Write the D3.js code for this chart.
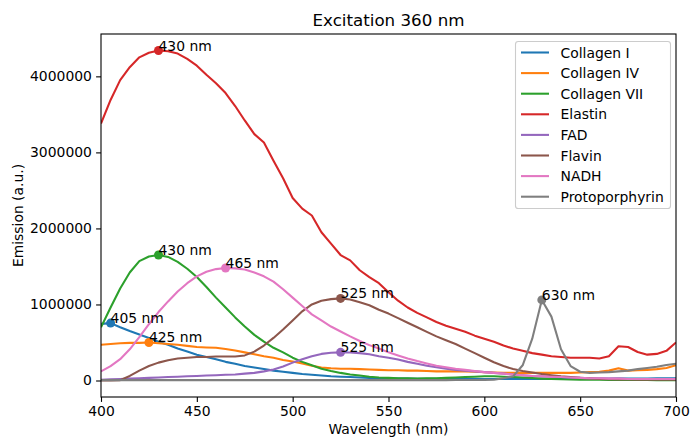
<!DOCTYPE html>
<html>
<head>
<meta charset="utf-8">
<script src="https://cdn.jsdelivr.net/npm/d3@7"></script>
<style>
  html, body { margin: 0; padding: 0; background: #fff; }
  svg { display: block; font-family: "DejaVu Sans", sans-serif; }
</style>
</head>
<body>
<svg id="chart" width="693" height="440"></svg>
<script>
// ---- Data ----
const title = "Excitation 360 nm";
const xLabel = "Wavelength (nm)";
const yLabel = "Emission (a.u.)";

const wavelengths = [400,405,410,415,420,425,430,435,440,445,450,455,460,465,470,475,480,485,490,495,
  500,505,510,515,520,525,530,535,540,545,550,555,560,565,570,575,580,585,590,595,
  600,605,610,615,620,625,630,635,640,645,650,655,660,665,670,675,680,685,690,695,700];

const seriesNames = ["Collagen I","Collagen IV","Collagen VII","Elastin","FAD","Flavin","NADH","Protoporphyrin"];
const seriesColors = ["#1f77b4","#ff7f0e","#2ca02c","#d62728","#9467bd","#8c564b","#e377c2","#7f7f7f"];

const collagenI = [745000,755000,700000,650000,605000,560000,510000,470000,420000,380000,
  340000,310000,280000,245000,220000,190000,170000,150000,130000,115000,
  100000,85000,75000,65000,55000,50000,45000,40000,35000,30000,
  28000,26000,25000,24000,23000,22000,22000,21000,21000,20000,
  20000,20000,20000,20000,20000,20000,21000,21000,22000,22000,
  23000,23000,24000,24000,25000,25000,26000,27000,28000,29000,30000];

const collagenIV = [470000,480000,490000,495000,495000,500000,490000,480000,470000,455000,
  440000,435000,430000,415000,395000,370000,345000,320000,300000,270000,
  250000,225000,195000,170000,160000,155000,155000,150000,145000,140000,
  135000,135000,130000,130000,125000,120000,120000,120000,120000,115000,
  110000,105000,100000,100000,100000,100000,100000,100000,100000,100000,
  105000,110000,115000,130000,160000,130000,135000,140000,150000,165000,200000];

const collagenVII = [700000,960000,1210000,1420000,1570000,1630000,1650000,1625000,1560000,1470000,
  1360000,1230000,1090000,960000,830000,710000,600000,510000,430000,370000,
  300000,245000,200000,155000,125000,100000,80000,65000,50000,40000,
  35000,30000,28000,27000,28000,30000,35000,40000,45000,50000,
  55000,55000,50000,45000,40000,32000,25000,20000,16000,13000,
  11000,10000,9000,8000,7000,7000,6000,6000,5000,5000,5000];

const elastin = [3380000,3690000,3950000,4120000,4250000,4310000,4340000,4330000,4300000,4230000,
  4140000,4020000,3910000,3780000,3610000,3420000,3240000,3130000,2890000,2660000,
  2400000,2260000,2170000,1950000,1800000,1650000,1580000,1450000,1360000,1280000,
  1160000,1050000,960000,890000,830000,770000,720000,680000,640000,590000,
  550000,510000,460000,420000,390000,360000,340000,320000,310000,300000,
  300000,300000,290000,320000,450000,440000,375000,340000,350000,390000,500000];

const fad = [10000,15000,20000,25000,30000,35000,40000,45000,50000,55000,
  60000,65000,70000,75000,80000,90000,100000,120000,145000,185000,
  235000,280000,320000,350000,365000,370000,368000,360000,345000,320000,
  300000,275000,245000,220000,195000,175000,155000,140000,130000,120000,
  110000,100000,90000,80000,70000,60000,55000,50000,45000,40000,
  35000,30000,30000,25000,25000,20000,20000,20000,20000,20000,20000];

const flavin = [0,0,5000,60000,130000,190000,235000,265000,290000,300000,
  310000,310000,315000,315000,315000,330000,380000,460000,560000,670000,
  790000,910000,1000000,1050000,1070000,1080000,1065000,1030000,990000,930000,
  880000,820000,760000,700000,640000,580000,530000,480000,420000,360000,
  300000,240000,190000,150000,125000,105000,85000,70000,55000,45000,
  35000,28000,20000,18000,15000,15000,12000,10000,10000,10000,10000];

const nadh = [120000,190000,280000,410000,570000,740000,900000,1040000,1170000,1280000,
  1370000,1430000,1465000,1480000,1475000,1460000,1420000,1370000,1300000,1200000,
  1090000,980000,870000,790000,710000,645000,580000,520000,465000,420000,
  370000,330000,290000,255000,225000,195000,175000,155000,140000,125000,
  110000,100000,90000,80000,70000,60000,55000,50000,45000,40000,
  35000,30000,30000,25000,25000,20000,20000,20000,20000,20000,20000];

const protoporphyrin = [5000,5000,5000,5000,5000,5000,5000,5000,5000,5000,
  5000,5000,5000,5000,5000,5000,5000,5000,5000,5000,
  5000,5000,5000,5000,5000,5000,5000,5000,5000,5000,
  5000,5000,5000,5000,5000,5000,5000,6000,6000,7000,
  8000,10000,30000,55000,200000,550000,1060000,840000,410000,190000,
  115000,100000,105000,110000,120000,130000,150000,165000,180000,205000,220000];

const seriesValues = [collagenI, collagenIV, collagenVII, elastin, fad, flavin, nadh, protoporphyrin];
const peakWavelengths = [405, 425, 430, 430, 525, 525, 465, 630];

const xTicks = [400,450,500,550,600,650,700];
const yTicks = [0,1000000,2000000,3000000,4000000];

// ---- Layout ----
const W = 693, H = 440;
const plot = { left: 101, right: 676, top: 34, bottom: 397 };
const fs = 13.9;

const svg = d3.select("#chart");

const allVals = seriesValues.flat();
const vMin = d3.min(allVals), vMax = d3.max(allVals);
const pad = 0.05 * (vMax - vMin);

const x = d3.scaleLinear().domain([400, 700]).range([plot.left, plot.right]);
const y = d3.scaleLinear().domain([vMin - pad, vMax + pad]).range([plot.bottom, plot.top]);

svg.append("defs").append("clipPath").attr("id", "clip")
  .append("rect").attr("x", plot.left).attr("y", plot.top)
  .attr("width", plot.right - plot.left).attr("height", plot.bottom - plot.top);

const gPlot = svg.append("g").attr("clip-path", "url(#clip)");

const line = d3.line().x((d, i) => x(wavelengths[i])).y(d => y(d));

seriesValues.forEach((vals, k) => {
  gPlot.append("path")
    .attr("d", line(vals))
    .attr("fill", "none")
    .attr("stroke", seriesColors[k])
    .attr("stroke-width", 2.08)
    .attr("stroke-linejoin", "round")
    .attr("stroke-linecap", "butt");
});

// Peak markers
seriesValues.forEach((vals, k) => {
  const idx = wavelengths.indexOf(peakWavelengths[k]);
  svg.append("circle")
    .attr("cx", x(peakWavelengths[k]))
    .attr("cy", y(vals[idx]))
    .attr("r", 4.5)
    .attr("fill", seriesColors[k]);
});

// Peak labels
seriesValues.forEach((vals, k) => {
  const idx = wavelengths.indexOf(peakWavelengths[k]);
  svg.append("text")
    .attr("x", x(peakWavelengths[k]))
    .attr("y", y(vals[idx]))
    .attr("font-size", fs)
    .attr("fill", "#000")
    .text(peakWavelengths[k] + " nm");
});

// Axes
const xAxis = d3.axisBottom(x).tickValues(xTicks).tickSize(4.9).tickPadding(4.2).tickFormat(d3.format("d"));
const yAxis = d3.axisLeft(y).tickValues(yTicks).tickSize(4.9).tickPadding(4.2).tickFormat(d3.format("d"));

const gx = svg.append("g").attr("transform", `translate(0,${plot.bottom})`).call(xAxis);
const gy = svg.append("g").attr("transform", `translate(${plot.left},0)`).call(yAxis);
[gx, gy].forEach(g => {
  g.select(".domain").remove();
  g.selectAll(".tick line").attr("stroke", "#000").attr("stroke-width", 1.1);
  g.selectAll(".tick text").attr("font-size", fs).attr("font-family", "DejaVu Sans").attr("fill", "#000");
});

// Spines
svg.append("rect")
  .attr("x", plot.left).attr("y", plot.top)
  .attr("width", plot.right - plot.left).attr("height", plot.bottom - plot.top)
  .attr("fill", "none").attr("stroke", "#000").attr("stroke-width", 1.1);

// Titles
svg.append("text").attr("x", (plot.left + plot.right) / 2).attr("y", 26)
  .attr("text-anchor", "middle").attr("font-size", 16.7).text(title);
svg.append("text").attr("x", (plot.left + plot.right) / 2).attr("y", 434)
  .attr("text-anchor", "middle").attr("font-size", fs).text(xLabel);
svg.append("text")
  .attr("transform", `translate(22.5,${(plot.top + plot.bottom) / 2}) rotate(-90)`)
  .attr("text-anchor", "middle").attr("font-size", fs).text(yLabel);

// Legend
const lg = { x: 515.5, y: 41.5, w: 155, h: 167, row: 20.6, first: 52.5 };
svg.append("rect")
  .attr("x", lg.x).attr("y", lg.y).attr("width", lg.w).attr("height", lg.h)
  .attr("rx", 2.8).attr("ry", 2.8)
  .attr("fill", "#fff").attr("fill-opacity", 0.8)
  .attr("stroke", "#cccccc").attr("stroke-width", 1.1);
seriesNames.forEach((name, k) => {
  const cy = lg.first + k * lg.row;
  svg.append("line")
    .attr("x1", 521).attr("x2", 549).attr("y1", cy).attr("y2", cy)
    .attr("stroke", seriesColors[k]).attr("stroke-width", 2.08);
  svg.append("text").attr("x", 560.5).attr("y", cy + 5)
    .attr("font-size", fs).attr("fill", "#000").text(name);
});
</script>
</body>
</html>
